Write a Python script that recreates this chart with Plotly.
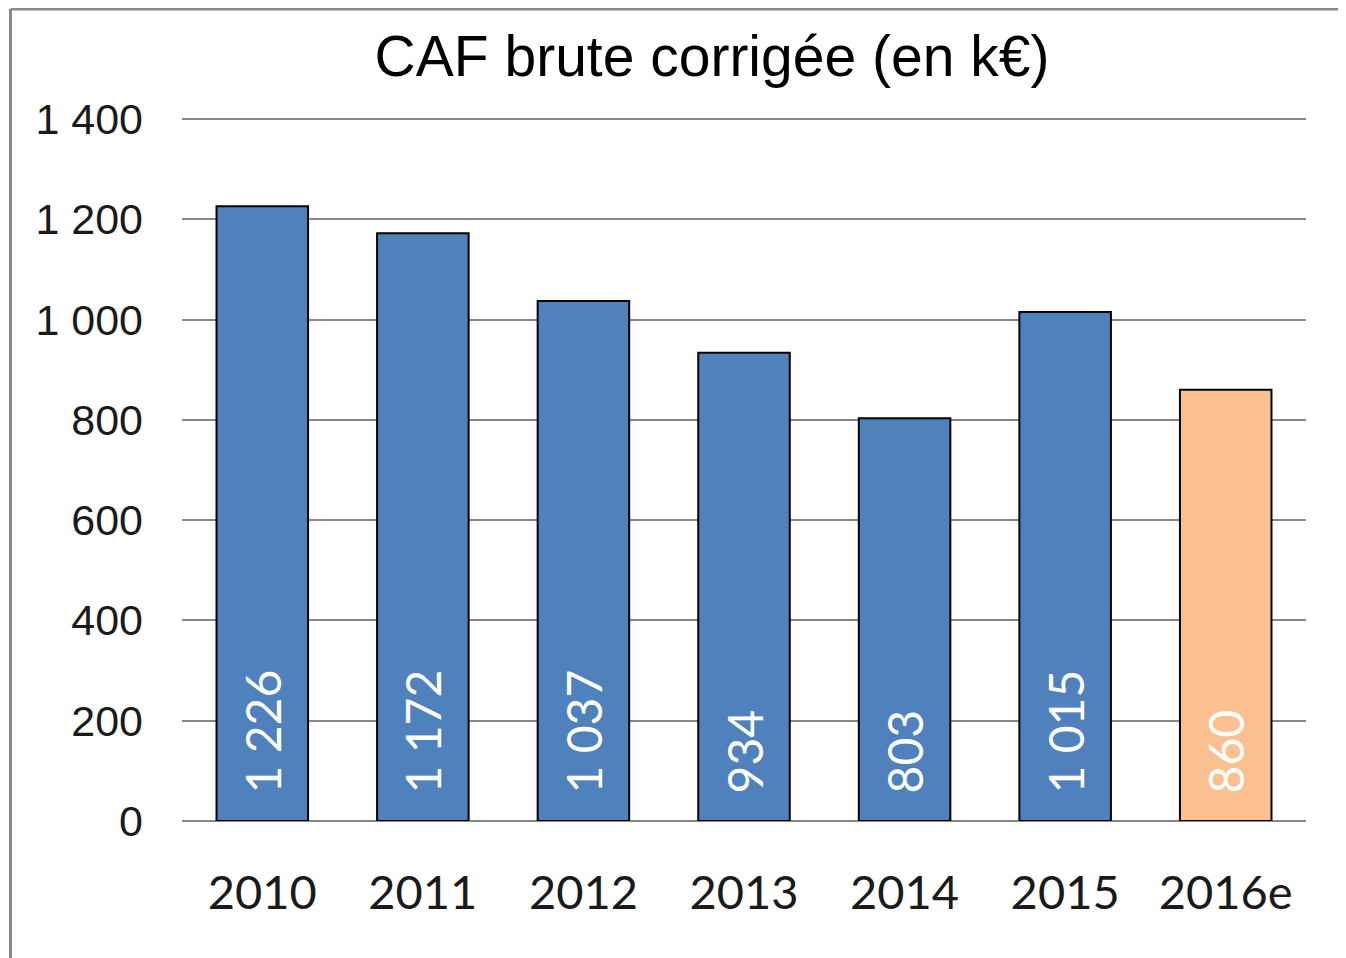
import plotly.graph_objects as go

categories = ["2010", "2011", "2012", "2013", "2014", "2015", "2016e"]
values = [1226, 1172, 1037, 934, 803, 1015, 860]
bar_colors = ["#4F81BD"] * 6 + ["#FAC090"]
tick_vals = [0, 200, 400, 600, 800, 1000, 1200, 1400]
tick_text = ["0", "200", "400", "600", "800", "1 000", "1 200", "1 400"]

# page body has an 8px margin, so the figure is drawn 8px in from top-left
OFF = 8
W, H = 1346 - OFF, 958 - OFF
Y_TOP = 1410
zero_px = 821 - OFF
ph = round((821 - 119) * Y_TOP / 1400)
L, R = 182 - OFF, 40
T = zero_px - ph
B = H - zero_px


def fmt(v):
    s = f"{v:,}".replace(",", " ")
    return "\u00a0\u00a0" + s


fig = go.Figure()
fig.add_trace(go.Bar(
    x=categories, y=values,
    marker=dict(color=bar_colors, line=dict(color="#000000", width=2)),
    text=[fmt(v) for v in values],
    textposition="inside", insidetextanchor="start", textangle=-90,
    textfont=dict(family="Lato", size=48, color="#FFFFFF"),
    cliponaxis=False,
))

pw = W - L - R


def px_x(p):
    return (p - L) / pw


def px_y(p):
    return 1 - (p - T) / ph


fig.update_layout(
    width=W, height=H,
    margin=dict(l=L, r=R, t=T, b=B),
    paper_bgcolor="#FFFFFF", plot_bgcolor="#FFFFFF",
    bargap=0.43,
    showlegend=False,
    title=dict(text="CAF brute corrigée (en k€)", x=(712 - OFF) / W, xanchor="center",
               y=1 - (57 - OFF - 1) / H, yanchor="middle",
               font=dict(family="Liberation Sans", size=57, color="#000000")),
    xaxis=dict(showgrid=False, showline=False, ticks="", zeroline=False,
               tickfont=dict(family="Lato", size=47, color="#1a1a1a"),
               ticklabelstandoff=40),
    yaxis=dict(range=[0, Y_TOP], tickvals=tick_vals, ticktext=tick_text,
               showgrid=True, gridcolor="#888888", gridwidth=2,
               zeroline=True, zerolinecolor="#888888", zerolinewidth=2,
               showline=False, ticks="",
               tickfont=dict(family="Liberation Sans", size=43, color="#1a1a1a"),
               ticklabelstandoff=38),
    shapes=[
        dict(type="line", xref="paper", yref="paper",
             x0=px_x(2.5), x1=px_x(W + 5), y0=px_y(1), y1=px_y(1),
             line=dict(color="#888888", width=3)),
        dict(type="line", xref="paper", yref="paper",
             x0=px_x(2.5), x1=px_x(2.5), y0=px_y(1), y1=px_y(H + 5),
             line=dict(color="#888888", width=3)),
    ],
)

fig.write_html("out.html")
